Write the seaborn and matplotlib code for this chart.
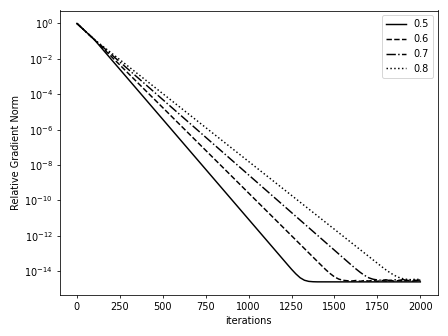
import matplotlib
matplotlib.use("Agg")
import matplotlib.pyplot as plt
import seaborn as sns
import pandas as pd

labels = ["0.5", "0.6", "0.7", "0.8"]
styles = ["-", "--", "-.", ":"]

iters_05 = [0, 100, 1224, 1250, 1275, 1300, 1325, 1350, 1375, 1400, 1600, 1800, 2000]
vals_05 = [1.0, 0.126, 2.52e-14, 1.29e-14, 7.1e-15, 4.28e-15, 3.09e-15, 2.67e-15, 2.55e-15,
           2.51e-15, 2.5e-15, 2.5e-15, 2.5e-15]

iters_06 = [0, 100, 1416, 1450, 1475, 1500, 1525, 1550, 1575, 1600, 1625, 1650, 1675, 1700,
            1725, 1750, 1775, 1800, 1825, 1850, 1875, 1900, 1925, 1950, 1975, 2000]
vals_06 = [1.0, 0.126, 2.53e-14, 1.2e-14, 7.35e-15, 4.8e-15, 3.59e-15, 3.08e-15, 2.9e-15,
           2.8e-15, 3.0e-15, 2.7e-15, 3.0e-15, 2.8e-15, 3.1e-15, 2.7e-15, 3.0e-15, 2.8e-15,
           3.1e-15, 2.7e-15, 3.0e-15, 2.8e-15, 3.1e-15, 2.7e-15, 3.0e-15, 2.9e-15]

iters_07 = [0, 100, 1592, 1625, 1650, 1675, 1700, 1725, 1750, 1775, 1800, 1825, 1850, 1875,
            1900, 1925, 1950, 1975, 2000]
vals_07 = [1.0, 0.126, 2.53e-14, 1.35e-14, 8.64e-15, 5.83e-15, 4.24e-15, 3.53e-15, 3.21e-15,
           3.08e-15, 3.3e-15, 2.9e-15, 3.3e-15, 3.0e-15, 3.4e-15, 2.9e-15, 3.3e-15, 3.0e-15, 3.2e-15]

iters_08 = [0, 100, 1756, 1775, 1800, 1825, 1850, 1875, 1900, 1925, 1950, 1975, 2000]
vals_08 = [1.0, 0.126, 2.53e-14, 1.81e-14, 1.19e-14, 8.06e-15, 5.77e-15, 4.46e-15, 3.75e-15,
           3.44e-15, 3.3e-15, 3.6e-15, 3.3e-15]

series = [(iters_05, vals_05), (iters_06, vals_06), (iters_07, vals_07), (iters_08, vals_08)]

fig, ax = plt.subplots(figsize=(6.4, 4.8), dpi=70)
for (xs, ys), lab, ls in zip(series, labels, styles):
    df = pd.DataFrame({"iterations": xs, "value": ys})
    sns.lineplot(data=df, x="iterations", y="value", ax=ax, color="black",
                 linestyle=ls, linewidth=1.5, label=lab, sort=False, estimator=None)

ax.set_yscale("log")
ax.set_xlabel("iterations")
ax.set_ylabel("Relative Gradient Norm")
ax.set_yticks([10.0 ** e for e in range(0, -15, -2)])
ax.legend(loc="upper right")
fig.tight_layout()
fig.savefig("out.png", dpi=70)
